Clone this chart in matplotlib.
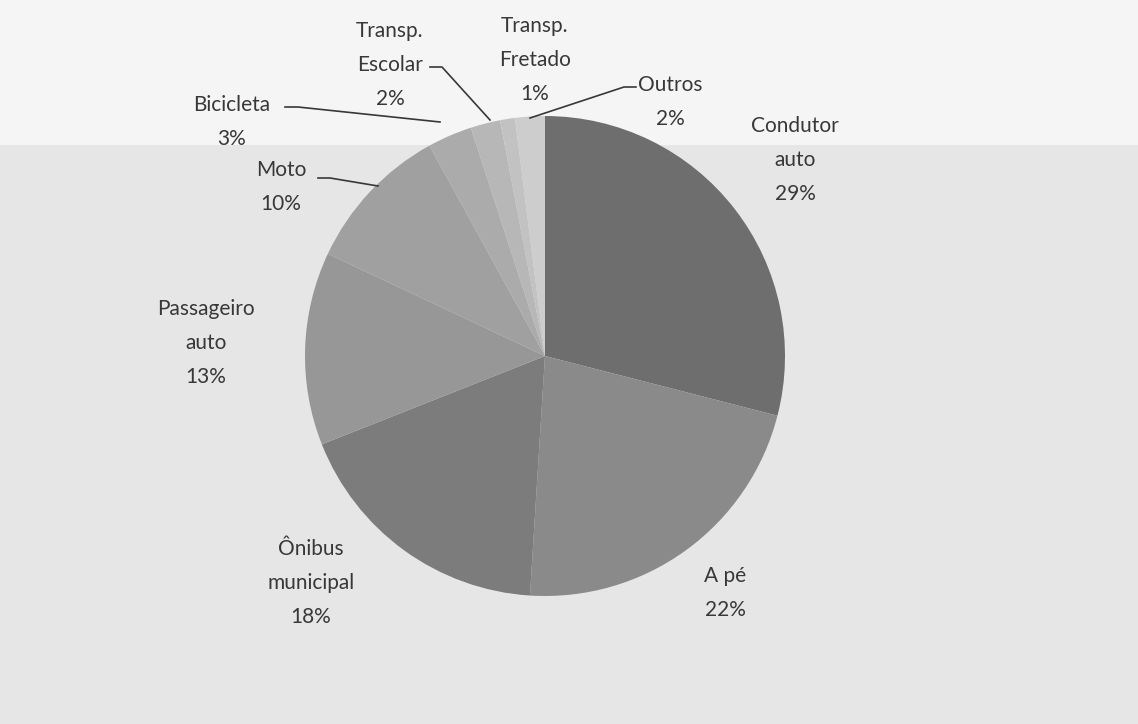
import matplotlib
matplotlib.use("Agg")
import matplotlib.pyplot as plt
from matplotlib.patches import Rectangle

categories = ["Condutor auto", "A pé", "Ônibus municipal", "Passageiro auto", "Moto",
              "Bicicleta", "Transp. Escolar", "Transp. Fretado", "Outros"]
values = [29, 22, 18, 13, 10, 3, 2, 1, 2]
label_texts = ["Condutor\nauto\n29%", "A pé\n22%", "Ônibus\nmunicipal\n18%", "Passageiro\nauto\n13%",
               "Moto\n10%", "Bicicleta\n3%", "Transp.\nEscolar\n2%", "Transp.\nFretado\n1%", "Outros\n2%"]
colors = ["#6e6e6e", "#8a8a8a", "#7c7c7c", "#979797", "#a0a0a0",
          "#ababab", "#b7b7b7", "#c2c2c2", "#cdcdcd"]

W, H = 1138, 724
fig = plt.figure(figsize=(W / 100, H / 100), dpi=100)
fig.patch.set_facecolor("#f5f5f5")

ax = fig.add_axes([0, 0, 1, 1])
ax.set_facecolor("none")
ax.add_patch(Rectangle((0, 0), W, H - 145, facecolor="#e6e6e6", edgecolor="none", zorder=0))
cx, cy, r = 545, H - 356, 240
wedges, _ = ax.pie(values, colors=colors, startangle=90, counterclock=False,
                   center=(cx, cy), radius=r, wedgeprops=dict(linewidth=0))
for w in wedges:
    w.set_zorder(2)
ax.set_xlim(0, W)
ax.set_ylim(0, H)
ax.set_aspect("equal")
ax.axis("off")

font = dict(family=["Lato", "DejaVu Sans"], fontsize=15, color="#383838",
            ha="center", va="center", linespacing=1.85, zorder=3)

# label positions in image pixels (x, y from top)
label_pos = [(795, 160), (725, 593), (311, 583), (206, 343), (281, 187),
             (232, 122), (390, 65), (535, 60), (670, 102)]
for txt, (x, y) in zip(label_texts, label_pos):
    ax.text(x, H - y, txt, **font)

# leader lines
leaders = [
    [(318, 178), (330, 178), (378, 186)],   # Moto
    [(285, 107), (298, 107), (440, 122)],   # Bicicleta
    [(430, 67), (442, 67), (490, 120)],     # Escolar
    [(636, 87), (624, 87), (530, 118)],     # Outros
]
for pts in leaders:
    xs = [p[0] for p in pts]
    ys = [H - p[1] for p in pts]
    ax.plot(xs, ys, color="#383838", lw=1.2, zorder=3)

fig.savefig("out.png", dpi=100, facecolor=fig.get_facecolor())
